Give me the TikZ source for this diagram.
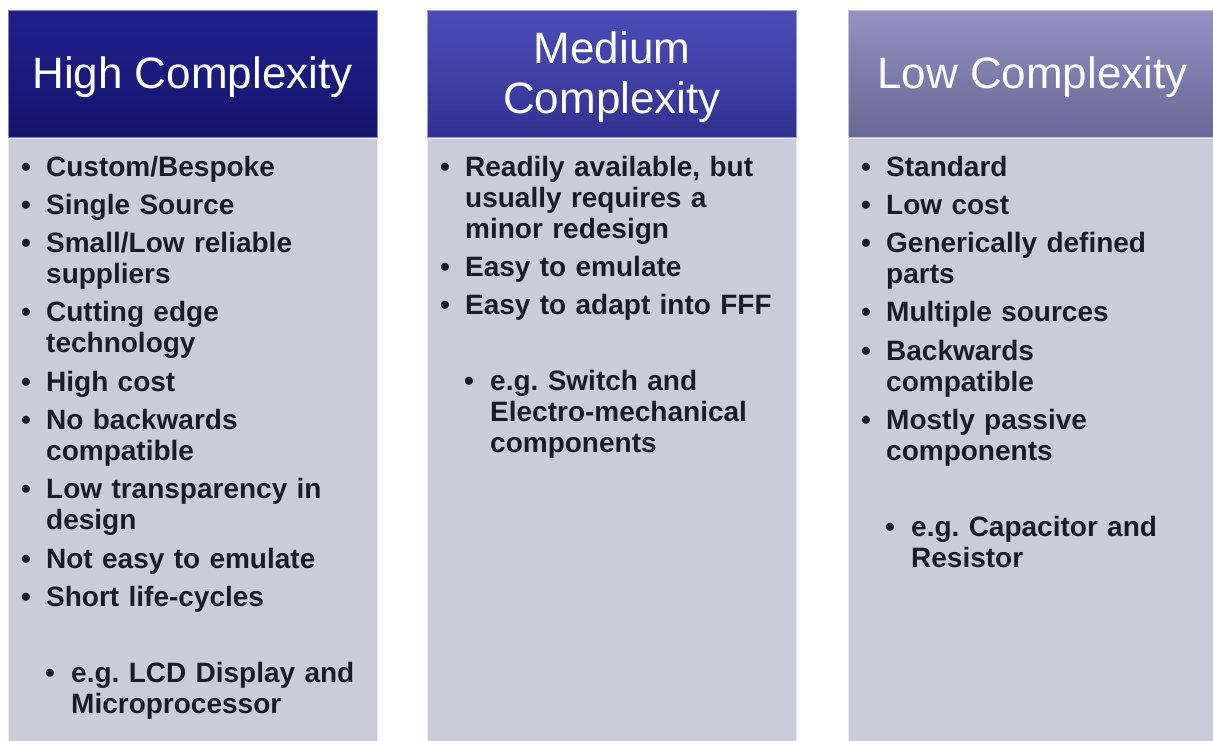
\documentclass[tikz,border=0pt]{standalone}
\usepackage{fontspec}
\setmainfont{Liberation Sans}
\hyphenpenalty=10000

% bullet and list lines for the column bodies
\newcommand{\bul}{\textbullet}
\newcommand{\itm}[1]{\hangindent=38pt\hangafter=1\noindent\makebox[38pt][l]{\hspace{13pt}\bul}#1\par\vspace{7.3pt}}
\newcommand{\subitm}[1]{\hangindent=63pt\hangafter=1\noindent\makebox[63pt][l]{\hspace{37pt}\bul}#1\par}

\begin{document}
\begin{tikzpicture}[
        x=1pt, y=-1pt, % one unit is one pixel of the slide, y runs down
        head/.style 2 args={rectangle, anchor=north west, inner sep=0pt,
            minimum width=369pt, minimum height=127pt,
            top color=#1, bottom color=#2, draw=white!45!#1, line width=1.2pt},
        headtxt/.style={anchor=base, text=white, inner sep=0pt,
            font=\fontsize{44}{50}\selectfont},
        body/.style={rectangle, anchor=north west, inner sep=0pt,
            minimum width=369pt, minimum height=620pt,
            fill=bodyfill, draw=white!60!bodyfill, line width=1.2pt},
        bodytxt/.style={anchor=base west, inner sep=0pt, text width=360pt,
            align=left, text=bodyink,
            font=\fontsize{28}{31}\selectfont\bfseries}
        ]

        % 1. Colours of the three columns
        \definecolor{hightop}{RGB}{32,32,142}
        \definecolor{highbot}{RGB}{20,20,108}
        \definecolor{medtop}{RGB}{76,76,184}
        \definecolor{medbot}{RGB}{50,50,146}
        \definecolor{lowtop}{RGB}{146,146,196}
        \definecolor{lowbot}{RGB}{104,104,150}
        \definecolor{bodyfill}{RGB}{203,203,219}
        \definecolor{bodyink}{RGB}{26,26,42}

        % 2. Page size, the third column runs off the right edge
        \useasboundingbox (0,0) rectangle (1213,740);
        \clip (0,0) rectangle (1213,740);

        % 3. Headers
        \node[head={hightop}{highbot}] (hHigh) at (8,10) {};
        \node[head={medtop}{medbot}] (hMed) at (427,10) {};
        \node[head={lowtop}{lowbot}] (hLow) at (848,10) {};

        % (base of a two line node is its last line)
        \node[headtxt] (nHigh) at (192.5,88) {High Complexity};
        \node[headtxt, align=center] (nMed) at (612,113) {Medium\\Complexity};
        \node[headtxt] (nLow) at (1032.5,88) {Low Complexity};

        % 4. Bodies
        \node[body] (bHigh) at (8,138) {};
        \node[body] (bMed) at (427,138) {};
        \node[body] (bLow) at (848,138) {};

        % 5. Lists
        \node[bodytxt] (tHigh) at (8,176) {%
            \itm{Custom/Bespoke}
            \itm{Single Source}
            \itm{Small/Low reliable\newline suppliers}
            \itm{Cutting edge\newline technology}
            \itm{High cost}
            \itm{No backwards\newline compatible}
            \itm{Low transparency in\newline design}
            \itm{Not easy to emulate}
            \itm{Short life-cycles}
            \vspace{38pt}
            \subitm{e.g.\ LCD Display and\newline Microprocessor}};

        \node[bodytxt] (tMed) at (427,176) {%
            \itm{Readily available, but\newline usually requires a\newline minor redesign}
            \itm{Easy to emulate}
            \itm{Easy to adapt into FFF}
            \vspace{38pt}
            \subitm{e.g.\ Switch and\newline Electro-mechanical\newline components}};

        \node[bodytxt] (tLow) at (848,176) {%
            \itm{Standard}
            \itm{Low cost}
            \itm{Generically defined\newline parts}
            \itm{Multiple sources}
            \itm{Backwards\newline compatible}
            \itm{Mostly passive\newline components}
            \vspace{38pt}
            \subitm{e.g.\ Capacitor and\newline Resistor}};
    \end{tikzpicture}
\end{document}
